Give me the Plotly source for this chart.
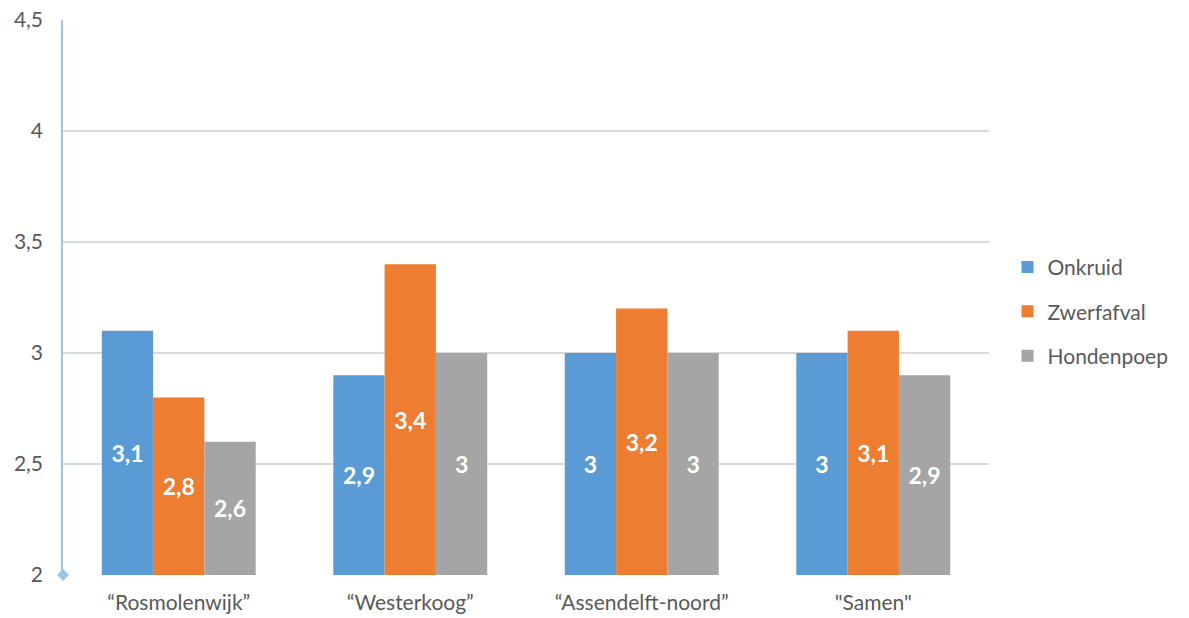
import plotly.graph_objects as go

categories = ["\u201cRosmolenwijk\u201d", "\u201cWesterkoog\u201d", "\u201cAssendelft-noord\u201d", "\"Samen\""]
onkruid = [3.1, 2.9, 3.0, 3.0]
zwerfafval = [2.8, 3.4, 3.2, 3.1]
hondenpoep = [2.6, 3.0, 3.0, 2.9]
series = [("Onkruid", onkruid, "#5B9BD5"), ("Zwerfafval", zwerfafval, "#ED7D31"), ("Hondenpoep", hondenpoep, "#A5A5A5")]
BASE = 2

FONT = "Lato, Open Sans, sans-serif"
fig = go.Figure()
for i, (name, vals, col) in enumerate(series):
    fig.add_trace(go.Bar(
        name=name, x=categories, y=[v - BASE for v in vals], base=BASE,
        marker=dict(color=col, line=dict(width=0)),
        text=[f"{v:g}".replace(".", ",") for v in vals],
        textposition="inside", insidetextanchor="middle",
        textfont=dict(color="white", size=23, family=FONT, weight="bold"),
        legendgroup=name, hovertemplate="%{x}: %{text}<extra>" + name + "</extra>",
    ))

fig.add_shape(type="path", xref="paper", yref="paper", xsizemode="pixel", ysizemode="pixel",
              xanchor=0, yanchor=0, path="M -6 0 L 0 6 L 6 0 L 0 -6 Z",
              fillcolor="#9DC3E6", line=dict(width=0), layer="above")

fig.update_layout(
    width=1189, height=618, paper_bgcolor="white", plot_bgcolor="white",
    margin=dict(l=63, r=200, t=20, b=43),
    separators=", ",
    barmode="group", bargap=0.335, bargroupgap=0,
    font=dict(family=FONT, size=21, color="#595959"),
    xaxis=dict(showgrid=False, showline=False, ticks="", tickfont=dict(size=21),
               automargin=False, ticklabelstandoff=13),
    yaxis=dict(range=[2, 4.5], dtick=0.5, tick0=2, showgrid=True, gridcolor="#D9D9D9", gridwidth=1.5,
               showline=True, linecolor="#9DC3E6", linewidth=1.5, zeroline=False,
               ticks="", tickfont=dict(size=21), ticklabelstandoff=14, automargin=False),
    legend=dict(x=1.02, y=0.475, yanchor="middle", xanchor="left", font=dict(size=21, color="#595959"),
                tracegroupgap=14, traceorder="grouped", itemwidth=30),
    showlegend=True,
)
fig.write_html("out.html", post_script="document.body.style.margin='0';",
               config={"displayModeBar": False})
